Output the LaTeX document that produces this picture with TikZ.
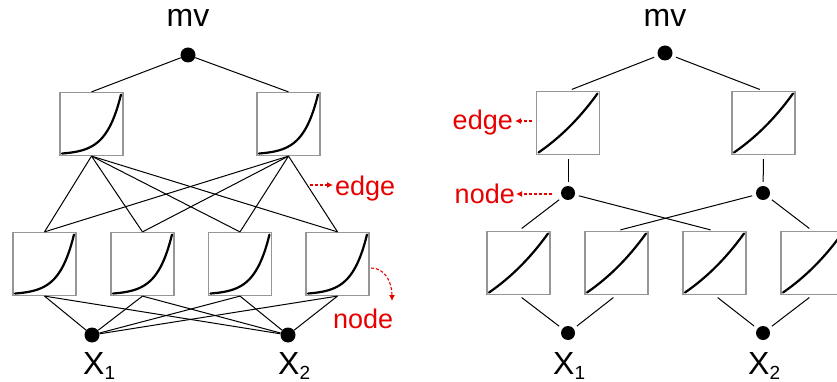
\documentclass[tikz,border=0pt]{standalone}
\usepackage{fontspec}
\setmainfont{Liberation Sans}
\usetikzlibrary{arrows.meta}
\definecolor{accent}{RGB}{232,0,0}
\definecolor{frame}{RGB}{150,150,150}

% activation curve inside a unit box: #1 = box node, #2 = growth rate
\newcommand\actcurve[2]{%
  \begin{scope}[shift={(#1.center)}]
    \draw[curve] plot[domain=0:1, samples=50, variable=\t]
      ({-29.5+59*\t},{29.5-59*(exp(#2*\t)-1)/(exp(#2)-1)});
  \end{scope}}
% input label with lowered index
\newcommand\inlabel[1]{X\raisebox{-5pt}{\fontsize{19}{19}\selectfont #1}}

\begin{document}
\begin{tikzpicture}[x=1pt,y=-1pt,
  fbox/.style={draw=frame, line width=1.2pt, minimum size=63pt, inner sep=0pt},
  dot/.style={circle, fill=black, minimum size=15pt, inner sep=0pt},
  sdot/.style={circle, fill=black, minimum size=14pt, inner sep=0pt},
  link/.style={line width=1pt, black},
  gap/.style={link, shorten <=4pt, shorten >=4pt},
  curve/.style={line width=2.2pt, black, line cap=round},
  tag/.style={text=accent, font=\fontsize{27}{27}\selectfont, inner sep=0pt},
  lbl/.style={font=\fontsize{32}{32}\selectfont, inner sep=0pt},
  pointer/.style={accent, line width=1.1pt, dash pattern=on 3pt off 2pt,
    -{Latex[length=6pt,width=6pt]}},
]
\useasboundingbox (0,0) rectangle (837,382);
\clip (0,0) rectangle (837,382);

% ---------------- left network (fully connected) ----------------
\node[lbl, anchor=base] (mvL) at (188,27) {mv};
\node[dot] (tL) at (188,55) {};
\node[fbox] (L1) at (91.5,124) {};
\node[fbox] (L2) at (288.5,124) {};
\node[fbox] (A1) at (44.5,264) {};
\node[fbox] (A2) at (142.5,264) {};
\node[fbox] (A3) at (240,264) {};
\node[fbox] (A4) at (337.5,264) {};
\node[dot] (x1) at (92,335) {};
\node[dot] (x2) at (288,335) {};
\node[lbl, anchor=base west] (x1L) at (83,374) {\inlabel{1}};
\node[lbl, anchor=base west] (x2L) at (278,374) {\inlabel{2}};

\foreach \b in {L1,L2,A1,A2,A3,A4} {\actcurve{\b}{4}}

\draw[link] (tL) -- (L1.north);
\draw[link] (tL) -- (L2.north);
\foreach \u in {L1,L2} \foreach \v in {A1,A2,A3,A4} \draw[link] (\u.south) -- (\v.north);
\foreach \v in {A1,A2,A3,A4} \foreach \x in {x1,x2} \draw[link] (\v.south) -- (\x);

% annotations
\coordinate (eL0) at (310,185);
\coordinate (eL1) at (333,185);
\draw[pointer] (eL0) -- (eL1);
\node[tag, anchor=base west] (edgeL) at (335,195) {edge};
\coordinate (nL0) at (371,268);
\coordinate (nL1) at (392,301);
\draw[pointer] (nL0) .. controls (385,268) and (392,282) .. (nL1);
\node[tag, anchor=base west] (nodeL) at (333,328) {node};

% ---------------- right network (sparse) ----------------
\node[lbl, anchor=base] (mvR) at (665,27) {mv};
\node[dot] (tR) at (665,53) {};
\node[fbox] (R1) at (568,123) {};
\node[fbox] (R2) at (763.5,123) {};
\node[sdot] (m1) at (568,193) {};
\node[sdot] (m2) at (763,193) {};
\node[fbox] (B1) at (518.5,263) {};
\node[fbox] (B2) at (616.5,263) {};
\node[fbox] (B3) at (714.5,263) {};
\node[fbox] (B4) at (812.5,263) {};
\node[sdot] (y1) at (568,333) {};
\node[sdot] (y2) at (763,333) {};
\node[lbl, anchor=base west] (y1L) at (553,374) {\inlabel{1}};
\node[lbl, anchor=base west] (y2L) at (748,374) {\inlabel{2}};

\foreach \b in {R1,R2,B1,B2,B3,B4} {\actcurve{\b}{0.7}}

\draw[gap] (tR) -- (R1.north);
\draw[gap] (tR) -- (R2.north);
\draw[gap] (R1.south) -- (m1);
\draw[gap] (R2.south) -- (m2);
\draw[gap] (m1) -- (B1.north);
\draw[gap] (m1) -- (B3.north);
\draw[gap] (m2) -- (B2.north);
\draw[gap] (m2) -- (B4.north);
\draw[gap] (B1.south) -- (y1);
\draw[gap] (B2.south) -- (y1);
\draw[gap] (B3.south) -- (y2);
\draw[gap] (B4.south) -- (y2);

% annotations
\coordinate (eR0) at (532,121);
\coordinate (eR1) at (515,121);
\draw[pointer] (eR0) -- (eR1);
\node[tag, anchor=base east] (edgeR) at (513,130) {edge};
\coordinate (nR0) at (552,194);
\coordinate (nR1) at (516,194);
\draw[pointer] (nR0) -- (nR1);
\node[tag, anchor=base east] (nodeR) at (515,203) {node};
\end{tikzpicture}
\end{document}
